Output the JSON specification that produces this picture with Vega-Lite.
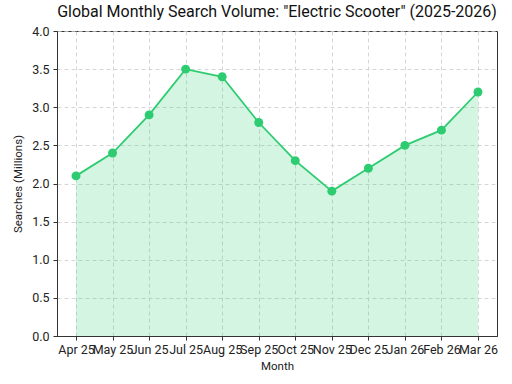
{
  "$schema": "https://vega.github.io/schema/vega-lite/v6.json",
  "width": 440,
  "height": 305,
  "autosize": {"type": "none"},
  "padding": {"left": 57, "top": 31, "right": 15, "bottom": 48},
  "config": {
    "font": "Roboto",
    "view": {"stroke": "#333333", "strokeWidth": 1},
    "axis": {
      "labelFont": "Roboto",
      "titleFont": "Roboto",
      "labelFontSize": 12.5,
      "titleFontSize": 11.5,
      "labelColor": "#222222",
      "titleColor": "#222222",
      "titleFontWeight": "normal",
      "domainColor": "#333333",
      "tickColor": "#333333",
      "tickSize": 4,
      "gridColor": "#cccccc",
      "gridDash": [4, 3],
      "gridWidth": 0.8
    },
    "title": {"font": "Roboto", "fontSize": 16, "fontWeight": "normal", "color": "#111111", "offset": 5}
  },
  "title": "Global Monthly Search Volume: \"Electric Scooter\" (2025-2026)",
  "data": {
    "values": [
      {"month": "Apr 25", "searches": 2.1},
      {"month": "May 25", "searches": 2.4},
      {"month": "Jun 25", "searches": 2.9},
      {"month": "Jul 25", "searches": 3.5},
      {"month": "Aug 25", "searches": 3.4},
      {"month": "Sep 25", "searches": 2.8},
      {"month": "Oct 25", "searches": 2.3},
      {"month": "Nov 25", "searches": 1.9},
      {"month": "Dec 25", "searches": 2.2},
      {"month": "Jan 26", "searches": 2.5},
      {"month": "Feb 26", "searches": 2.7},
      {"month": "Mar 26", "searches": 3.2}
    ]
  },
  "encoding": {
    "x": {
      "field": "month",
      "type": "ordinal",
      "sort": null,
      "scale": {"type": "point", "padding": 0.52},
      "axis": {"title": "Month", "labelAngle": 0, "labelOverlap": false, "grid": true, "titlePadding": 5, "labelPadding": 3}
    },
    "y": {
      "field": "searches",
      "type": "quantitative",
      "scale": {"domain": [0, 4], "nice": false},
      "axis": {"title": "Searches (Millions)", "values": [0, 0.5, 1, 1.5, 2, 2.5, 3, 3.5, 4], "format": ".1f", "grid": true, "titlePadding": 8, "labelPadding": 4}
    }
  },
  "layer": [
    {"mark": {"type": "area", "color": "#2ecc71", "opacity": 0.2}},
    {"mark": {"type": "line", "color": "#2ecc71", "strokeWidth": 1.8}},
    {"mark": {"type": "point", "filled": true, "color": "#2ecc71", "size": 80, "opacity": 1}}
  ]
}
